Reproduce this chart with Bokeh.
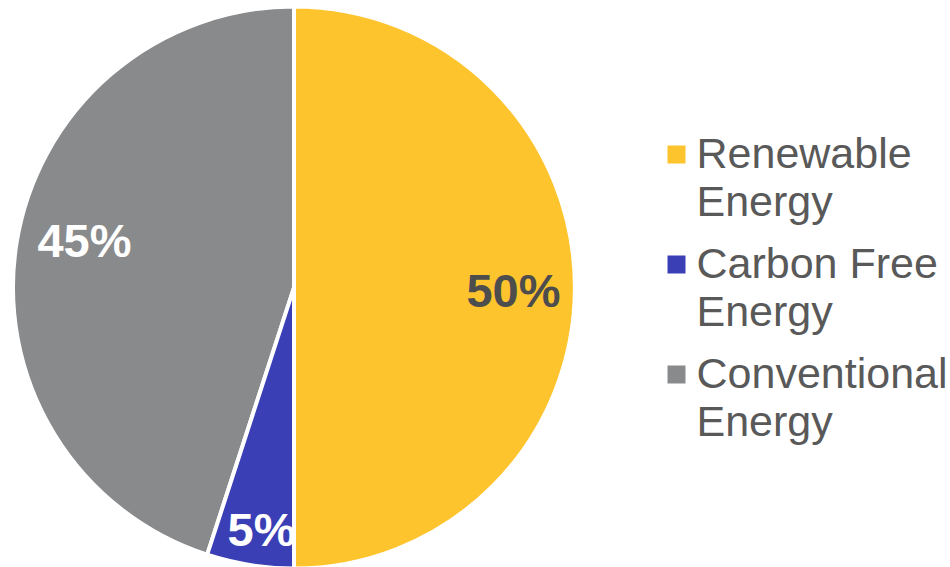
import math
from bokeh.plotting import figure
from bokeh.models import Range1d
from bokeh.core.properties import value
from bokeh.embed import file_html
from bokeh.resources import INLINE

# ---- data ----
categories = ["Renewable\nEnergy", "Carbon Free\nEnergy", "Conventional\nEnergy"]
shares = [0.50, 0.05, 0.45]
pct_labels = ["50%", "5%", "45%"]
colors = ["#FEC42D", "#3B3FB6", "#898A8C"]
label_colors = ["#4D4D4D", "#FFFFFF", "#FFFFFF"]
label_radius = [0.781, 0.869, 0.764]
label_shift_deg = [-0.8, 1.35, -3.6]

W, H = 950, 567
p = figure(width=W, height=H, output_backend="svg", toolbar_location=None,
           x_range=Range1d(0, W), y_range=Range1d(0, H), min_border=0)
p.axis.visible = False
p.grid.visible = False
p.outline_line_color = None
p.background_fill_color = "white"

cx, cy, R = 293.5, 280.0, 281

# angles: start at 12 o'clock, clockwise
starts, ends, mids = [], [], []
cum = 0.0
for s in shares:
    a0 = math.pi / 2 - 2 * math.pi * cum
    a1 = math.pi / 2 - 2 * math.pi * (cum + s)
    starts.append(a0)
    ends.append(a1)
    mids.append((a0 + a1) / 2)
    cum += s

def wedge(i):
    p.wedge(x=cx, y=cy, radius=R, radius_units="screen",
            start_angle=starts[i], end_angle=ends[i], direction="clock",
            fill_color=colors[i], line_color="white", line_width=4)

def label(i):
    r = R * label_radius[i]
    a = mids[i] + math.radians(label_shift_deg[i])
    p.text(x=[cx + r * math.cos(a)], y=[cy + r * math.sin(a)],
           text=[pct_labels[i]], text_font=value("Liberation Sans"),
           text_font_style="bold", text_font_size="47px",
           text_color=label_colors[i], text_align="center", text_baseline="middle")

wedge(2)
wedge(1)
label(1)
wedge(0)
label(0)
label(2)

# ---- legend (drawn manually) ----
lx_sq, lx_txt = 676, 696
ly0 = 400
line_step, item_step = 48, 110
for i, cat in enumerate(categories):
    base = ly0 - i * item_step
    p.scatter(x=[lx_sq], y=[base + 13], marker="square", size=18,
              fill_color=colors[i], line_color=None)
    for j, line in enumerate(cat.split("\n")):
        p.text(x=[lx_txt], y=[base + 15 - j * line_step], text=[line],
               text_font=value("Liberation Sans"), text_font_size="43px",
               text_color="#595959", text_align="left", text_baseline="alphabetic")

open("out.html", "w").write(file_html(p, INLINE))
